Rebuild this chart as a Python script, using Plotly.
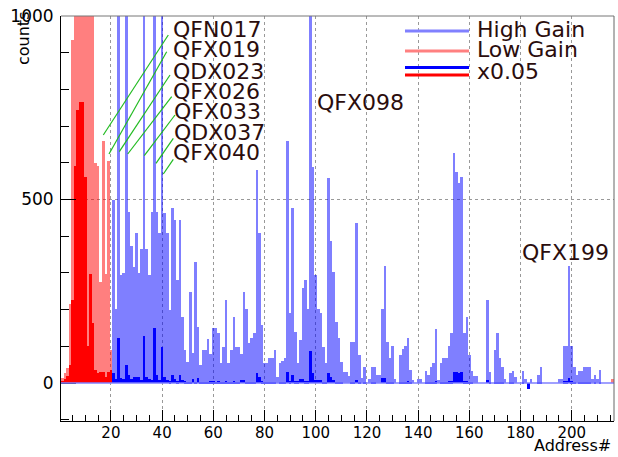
import plotly.graph_objects as go

# ---------------- data ----------------
addresses = list(range(1, 217))

# Low gain (addresses 1..20, plus tiny at 216)
low_gain_vals = [15, 28, 40, 215, 935, 2000, 3000, 3500, 3500, 3000,
                 2000, 1800, 1500, 600, 590, 275, 660, 296, 604, 90]
low_gain_last = 10

# Low gain x0.05
low_x005_vals = [5, 10, 20, 50, 226, 590, 744, 765, 765, 560,
                 100, 297, 164, 35, 26, 31, 31, 17, 31, 35]

# High gain (addresses 21..216)
high_gain_vals = [
    500, 203, 1500, 294, 300, 1500, 467, 374, 317, 408,   # 21-30
    300, 364, 1500, 364, 294, 467, 1500, 467, 408, 1500,  # 31-40
    464, 408, 200, 476, 444, 282, 444, 181, 90, 58,       # 41-50
    249, 81, 330, 153, 49, 90, 90, 120, 80, 149,          # 51-60
    149, 135, 54, 99, 226, 54, 90, 181, 99, 99,           # 61-70
    80, 249, 203, 110, 122, 135, 580, 410, 158, 54,       # 71-80
    54, 67, 67, 90, 17, 54, 60, 67, 660, 190,             # 81-90
    476, 140, 54, 118, 258, 282, 203, 2500, 589, 294,     # 91-100
    203, 190, 99, 54, 558, 388, 303, 167, 122, 58,        # 101-110
    31, 31, 19, 113, 113, 435, 76, 13, 45, 0,             # 111-120
    10, 45, 45, 22, 22, 203, 319, 113, 67, 101,           # 121-130
    10, 0, 76, 94, 101, 124, 35, 8, 0, 10,                # 131-140
    10, 0, 34, 22, 45, 55, 146, 8, 54, 67,                # 141-150
    67, 100, 135, 627, 575, 545, 560, 135, 181, 76,       # 151-160
    34, 20, 19, 0, 0, 0, 226, 31, 0, 90,                  # 161-170
    135, 67, 45, 10, 0, 26, 34, 17, 0, 0,                 # 171-180
    34, 10, 0, 10, 0, 0, 22, 45, 0, 0,                    # 181-190
    0, 0, 0, 0, 10, 10, 101, 101, 319, 101,               # 191-200
    45, 22, 34, 34, 45, 45, 45, 10, 22, 10,               # 201-210
    35, 1, 1, 1, 1, 0,                                    # 211-216
]

# High gain x0.05
high_x005_vals = [
    26, 10, 124, 13, 10, 49, 22, 10, 17, 17,              # 21-30
    17, 8, 128, 17, 10, 8, 149, 22, 8, 99,                # 31-40
    17, 8, 5, 22, 10, 5, 22, 8, 5, 3,                     # 41-50
    3, 10, 3, 13, 3, 3, 3, 3, 5, 5,                       # 51-60
    3, 5, 3, 3, 5, 3, 3, 5, 3, 3,                         # 61-70
    8, 8, 3, 3, 3, 3, 28, 17, 5, 3,                       # 71-80
    3, 3, 3, 3, 0, 3, 3, 3, 31, 5,                        # 81-90
    22, 5, 5, 10, 10, 5, 5, 88, 26, 8,                    # 91-100
    8, 8, 3, 3, 28, 17, 8, 3, 3, 3,                       # 101-110
    0, 0, 0, 3, 3, 8, 3, 0, 3, 0,                         # 111-120
    0, 3, 3, 0, 0, 13, 13, 3, 3, 3,                       # 121-130
    0, 0, 3, 3, 3, 5, 3, 0, 0, 0,                         # 131-140
    0, 0, 3, 3, 3, 3, 5, 0, 3, 3,                         # 141-150
    3, 5, 5, 30, 30, 28, 30, 5, 5, 3,                     # 151-160
    3, 0, 0, 0, 0, 0, 8, 3, 0, 3,                         # 161-170
    3, 3, 3, 0, 0, 3, 3, 0, 0, 0,                         # 171-180
    3, 0, -15, 0, 0, 0, 3, 3, 0, 0,                       # 181-190
    0, 0, 0, 0, 0, 0, 5, 5, 13, 5,                        # 191-200
    3, 0, 3, 3, 3, 3, 3, 0, 3, 0,                         # 201-210
    3, 0, 0, 0, 0, 0,                                     # 211-216
]

x_ticks = [20, 40, 60, 80, 100, 120, 140, 160, 180, 200]
y_ticks = [0, 500, 1000]
y_grid = [500]

labels_left = ["QFN017", "QFX019", "QDX023", "QFX026", "QFX033", "QDX037", "QFX040"]
legend_names = ["High Gain", "Low Gain", "x0.05"]

# full-length series
low_gain = low_gain_vals + [0] * 195 + [low_gain_last]
low_x005 = low_x005_vals + [0] * 196
high_gain = [0] * 20 + high_gain_vals
high_x005 = [0] * 20 + high_x005_vals

# ---------------- geometry helpers (pixel -> paper) ----------------
W, H = 618, 457
L, R, T, B = 61, 4, 16, 36
PW, PH = W - L - R, H - T - B


def px(x):
    return (x - L) / PW


def py(y):
    return (H - B - y) / PH


FONT = "DejaVu Sans"
TXT = "#2b0d0d"

fig = go.Figure()
fig.add_trace(go.Bar(x=addresses, y=high_gain, marker=dict(color="rgba(0,0,255,0.5)", line=dict(width=0)),
                     width=1.0, name=legend_names[0]))
fig.add_trace(go.Bar(x=addresses, y=low_gain, marker=dict(color="rgba(255,0,0,0.5)", line=dict(width=0)),
                     width=1.0, name=legend_names[1]))
fig.add_trace(go.Bar(x=addresses, y=high_x005, marker=dict(color="#0000ff", line=dict(width=0)),
                     width=1.0, name=legend_names[2]))
fig.add_trace(go.Bar(x=addresses, y=low_x005, marker=dict(color="#ff0000", line=dict(width=0)),
                     width=1.0, name=legend_names[2]))

shapes = []
# horizontal dotted grid
for g in y_grid:
    shapes.append(dict(type="line", xref="paper", yref="y", x0=0, x1=1, y0=g, y1=g,
                       line=dict(color="#999999", width=1, dash="dot"), layer="below"))
# baseline of high gain histogram
shapes.append(dict(type="line", xref="x", yref="y", x0=0.5, x1=216.5, y0=0, y1=0,
                   line=dict(color="#8080ff", width=1.5), layer="above"))
# top and right frame
shapes.append(dict(type="line", xref="paper", yref="paper", x0=0, x1=1, y0=1, y1=1,
                   line=dict(color="#777777", width=1)))
shapes.append(dict(type="line", xref="paper", yref="paper", x0=1, x1=1, y0=0, y1=1,
                   line=dict(color="#666666", width=1)))

# leader lines (pixel coordinates of the label connectors)
leaders = [
    ((168.3, 35.0), (103.3, 135.0)),
    ((166.7, 51.7), (109.0, 154.0)),
    ((170.0, 75.0), (119.3, 151.7)),
    ((171.7, 96.7), (127.7, 154.0)),
    ((175.0, 115.0), (144.3, 155.7)),
    ((173.3, 138.3), (156.0, 163.3)),
    ((173.3, 159.3), (163.3, 174.0)),
]
for (a, b) in leaders:
    shapes.append(dict(type="line", xref="paper", yref="paper", x0=px(a[0]), y0=py(a[1]),
                       x1=px(b[0]), y1=py(b[1]), line=dict(color="#22bb22", width=1.2)))

# legend lines
leg_lines = [(31, "#8080ff"), (51, "#ff8080"), (67.5, "#0000ff"), (75, "#ff0000")]
for yy, c in leg_lines:
    shapes.append(dict(type="line", xref="paper", yref="paper", x0=px(405), x1=px(469),
                       y0=py(yy), y1=py(yy), line=dict(color=c, width=3)))

annotations = []
label_y = [30, 50, 71, 91, 111, 132, 152]
label_x = [171, 171, 171, 171, 172, 172, 171]
for t, yy, xx in zip(labels_left, label_y, label_x):
    annotations.append(dict(text=t, xref="paper", yref="paper", x=px(xx), y=py(yy),
                            xanchor="left", yanchor="middle", showarrow=False,
                            font=dict(family=FONT, size=22, color=TXT)))
annotations.append(dict(text="QFX098", xref="paper", yref="paper", x=px(315), y=py(102),
                        xanchor="left", yanchor="middle", showarrow=False,
                        font=dict(family=FONT, size=22, color=TXT)))
annotations.append(dict(text="QFX199", xref="paper", yref="paper", x=px(520), y=py(252),
                        xanchor="left", yanchor="middle", showarrow=False,
                        font=dict(family=FONT, size=22, color=TXT)))
for t, yy in zip(legend_names, [30, 50, 71]):
    annotations.append(dict(text=t, xref="paper", yref="paper", x=px(475), y=py(yy),
                            xanchor="left", yanchor="middle", showarrow=False,
                            font=dict(family=FONT, size=22, color=TXT)))
annotations.append(dict(text="counts", xref="paper", yref="paper", x=px(23), y=py(39),
                        xanchor="center", yanchor="middle", textangle=-90, showarrow=False,
                        font=dict(family=FONT, size=16, color="black")))
annotations.append(dict(text="Address#", xref="paper", yref="paper", x=px(613), y=py(457),
                        xanchor="right", yanchor="bottom", showarrow=False,
                        font=dict(family=FONT, size=16, color="black")))

fig.update_layout(
    width=W, height=H, margin=dict(l=L, r=R, t=T, b=B),
    paper_bgcolor="white", plot_bgcolor="white",
    barmode="overlay", bargap=0, showlegend=False,
    shapes=shapes, annotations=annotations,
    xaxis=dict(range=[0.5, 216.5], tickvals=x_ticks, ticks="inside", ticklen=11, tickwidth=1,
               tickcolor="black", showline=True, linecolor="black", linewidth=1, mirror=False,
               showgrid=True, gridcolor="#999999", griddash="dot", gridwidth=1, zeroline=False,
               minor=dict(dtick=5, tick0=0, ticks="inside", ticklen=6, tickcolor="black", showgrid=False),
               tickfont=dict(family=FONT, size=15, color="black"), ticklabelstandoff=-2),
    yaxis=dict(range=[-103.5, 1000], tickvals=y_ticks, ticks="inside", ticklen=15, tickwidth=1,
               tickcolor="black", showline=True, linecolor="black", linewidth=1, mirror=False,
               showgrid=False, zeroline=False,
               minor=dict(dtick=100, tick0=0, ticks="inside", ticklen=8, tickcolor="black", showgrid=False),
               tickfont=dict(family=FONT, size=17, color="black"), ticklabelstandoff=3),
)

fig.write_html("out.html")
